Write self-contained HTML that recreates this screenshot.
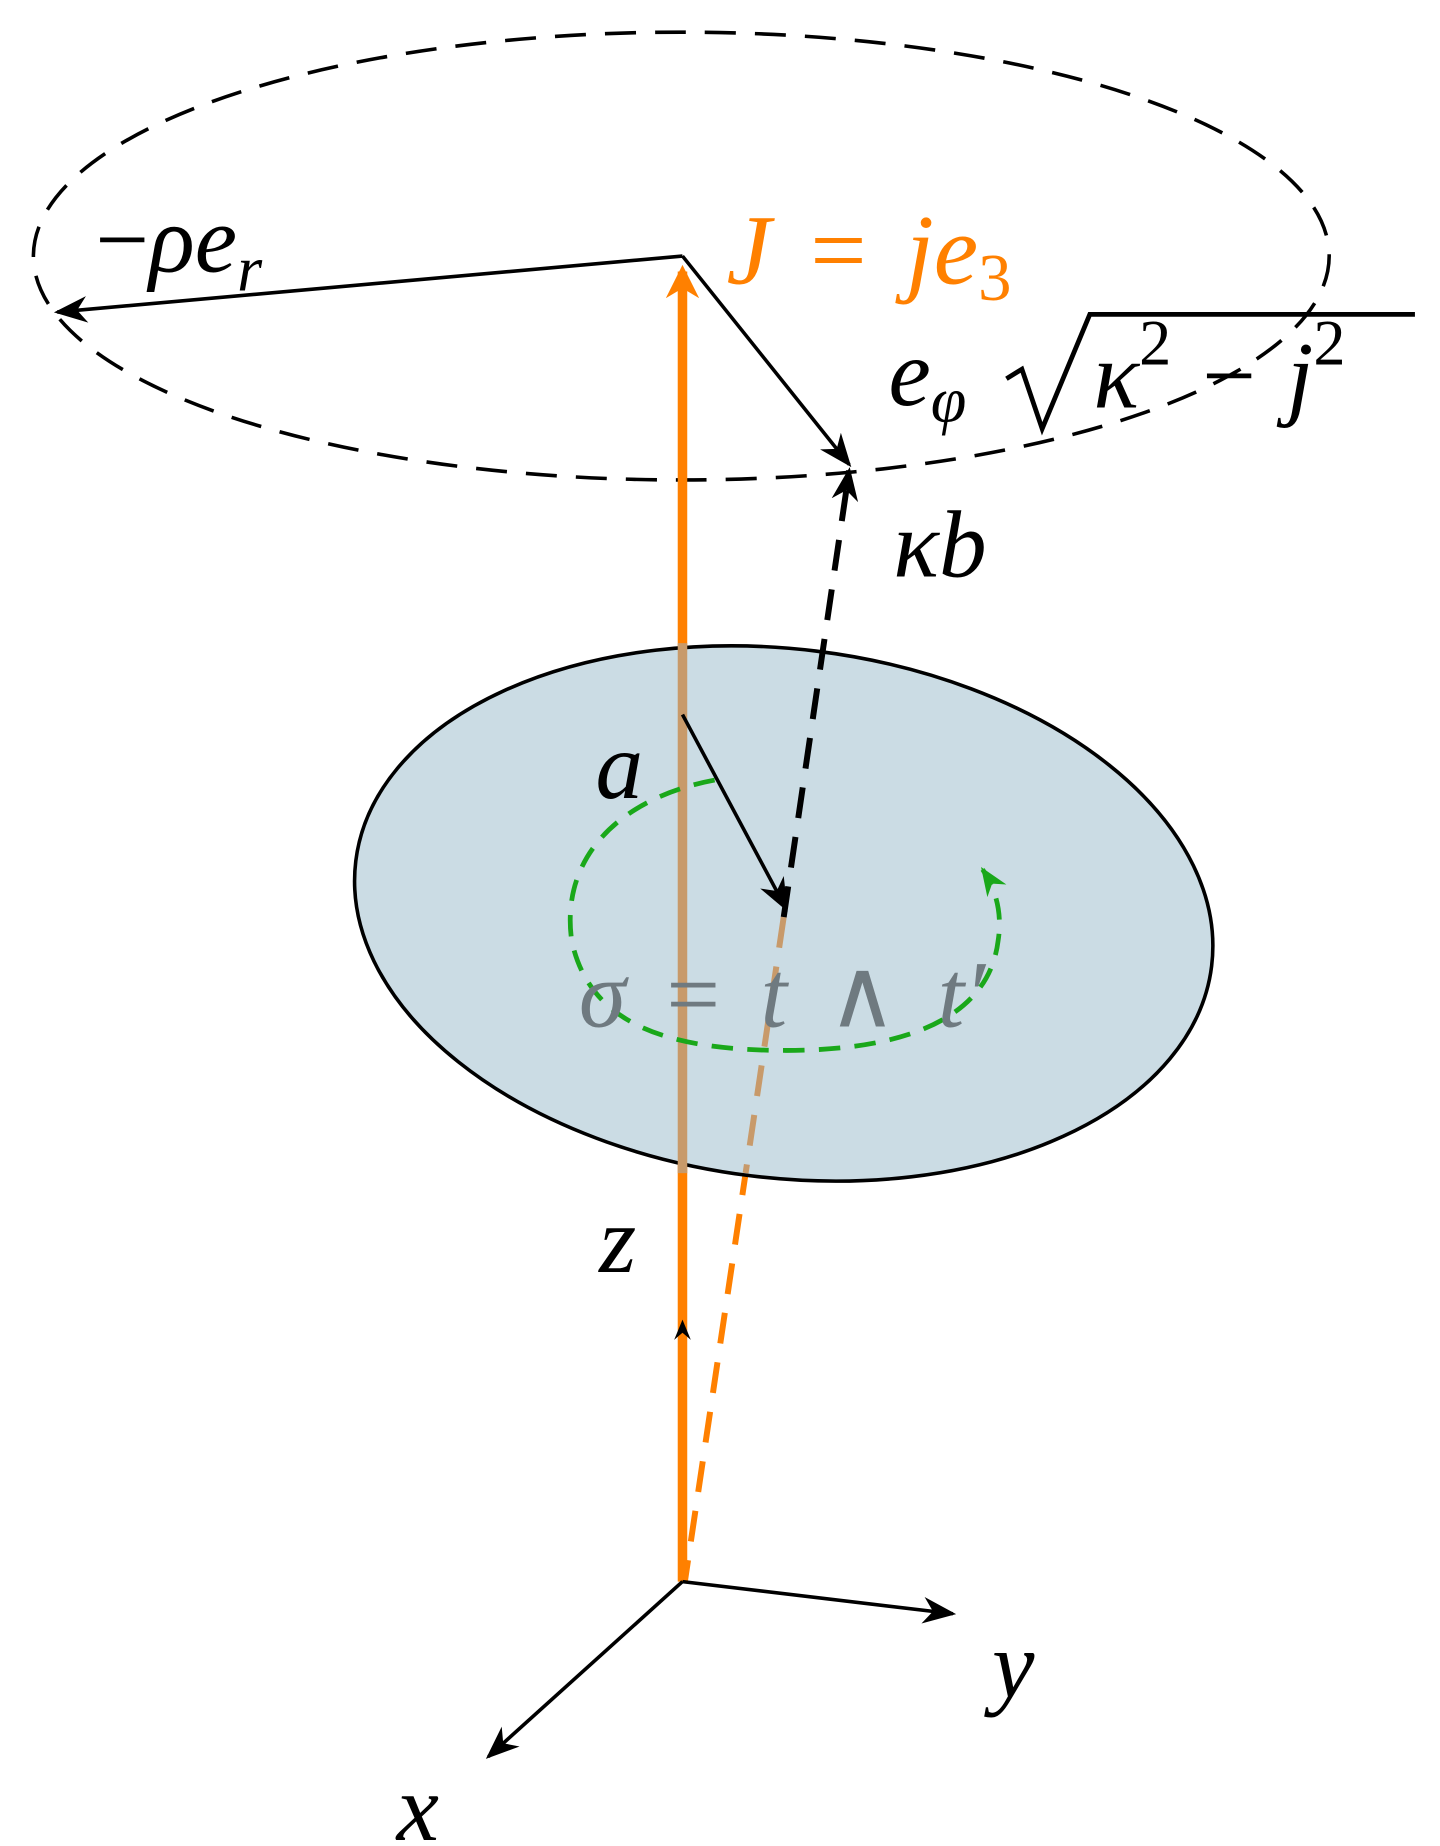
<!DOCTYPE html>
<html><head><meta charset="utf-8"><style>html,body{margin:0;padding:0;background:#fff}svg{display:block}</style></head>
<body>
<svg width="1440" height="1846" viewBox="0 0 1209 1550" xmlns="http://www.w3.org/2000/svg">
<defs>
<marker id="ahs" viewBox="0 0 10 10" refX="9" refY="5" markerWidth="28" markerHeight="28" markerUnits="userSpaceOnUse" orient="auto"><path d="M0,1 L10,5 L0,9 L3,5 Z" fill="#000"/></marker>
<marker id="ahg" viewBox="0 0 10 10" refX="9" refY="5" markerWidth="24" markerHeight="24" markerUnits="userSpaceOnUse" orient="auto"><path d="M0,1 L10,5 L0,9 L3,5 Z" fill="#1aa81a"/></marker>
<marker id="aho" viewBox="0 0 10 10" refX="8" refY="5" markerWidth="28" markerHeight="28" markerUnits="userSpaceOnUse" orient="auto"><path d="M0,0 L10,5 L0,10 L3,5 Z" fill="#ff8000"/></marker>
</defs>
<ellipse cx="572" cy="215" rx="544" ry="188" fill="none" stroke="#000" stroke-width="3" stroke-dasharray="26,16"/>
<line x1="573" y1="1328" x2="573" y2="228" stroke="#ff8000" stroke-width="8" marker-end="url(#aho)"/>
<line x1="658" y1="770" x2="575" y2="1328" stroke="#ff8000" stroke-width="5" stroke-dasharray="26,16"/>
<ellipse cx="658" cy="767" rx="362" ry="222" transform="rotate(7 658 767)" fill="#cbdce4" stroke="#000" stroke-width="3"/>
<line x1="573" y1="540" x2="573" y2="985" stroke="#c89a6a" stroke-width="8"/>
<line x1="658" y1="770" x2="626" y2="985" stroke="#c89a6a" stroke-width="5" stroke-dasharray="26,16"/>
<path d="M600,655 C520,670 470,720 480,790 C495,860 560,882 660,882 C760,882 830,855 838,790 C842,765 835,745 825,730" fill="none" stroke="#1aa81a" stroke-width="4" stroke-dasharray="18,12" marker-end="url(#ahg)"/>
<line x1="658" y1="770" x2="713" y2="395" stroke="#000" stroke-width="5" stroke-dasharray="26,16" marker-end="url(#ahs)"/>
<line x1="573" y1="215" x2="48" y2="262" stroke="#000" stroke-width="3" marker-end="url(#ahs)"/>
<line x1="573" y1="215" x2="713" y2="390" stroke="#000" stroke-width="3" marker-end="url(#ahs)"/>
<line x1="573" y1="600" x2="660" y2="763" stroke="#000" stroke-width="3" marker-end="url(#ahs)"/>
<line x1="573" y1="1328" x2="800" y2="1355" stroke="#000" stroke-width="3" marker-end="url(#ahs)"/>
<line x1="573" y1="1328" x2="410" y2="1475" stroke="#000" stroke-width="3" marker-end="url(#ahs)"/>
<path d="M566,1125 L573,1108 L580,1125 L573,1119 Z" fill="#000"/>
<g font-family="Liberation Serif, DejaVu Serif, serif" font-style="italic" font-size="80" fill="#000">
<text x="80" y="228"><tspan font-style="normal">−</tspan>ρe<tspan font-size="54" dy="16">r</tspan></text>
<text x="610" y="238" fill="#ff8000" font-size="84" word-spacing="12">J <tspan font-style="normal">=</tspan> je<tspan font-size="56" dy="14" font-style="normal">3</tspan></text>
<text x="746" y="340">e<tspan font-size="54" dy="14">φ</tspan></text>
<text x="918" y="342" word-spacing="6">κ<tspan font-size="54" dy="-36" font-style="normal">2</tspan><tspan dy="36" font-style="normal"> − </tspan>j<tspan font-size="54" dy="-36" font-style="normal">2</tspan></text>
<text x="750" y="484">κb</text>
<text x="500" y="670">a</text>
<text x="486" y="862" fill="#6f7a80" word-spacing="14">σ <tspan font-style="normal">=</tspan> t <tspan font-style="normal" font-weight="normal">∧</tspan> t′</text>
<text x="503" y="1068">z</text>
<text x="833" y="1425">y</text>
<text x="333" y="1545">x</text>
</g>
<path d="M845,318 L858,310 L875,360 L915,264 L1188,264" fill="none" stroke="#000" stroke-width="4"/>
</svg>
</body></html>
